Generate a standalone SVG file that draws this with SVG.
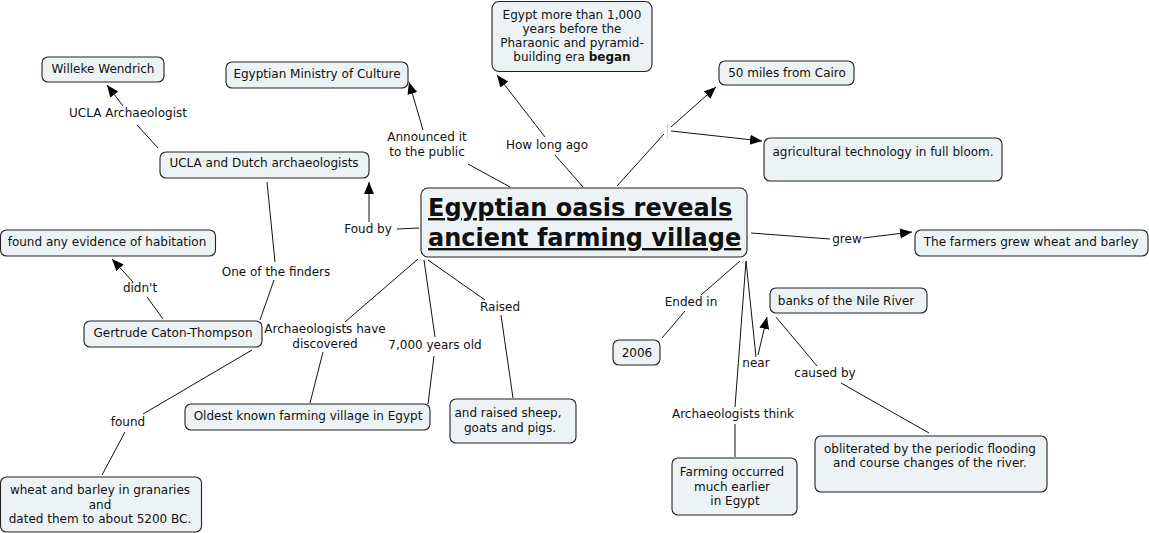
<svg xmlns="http://www.w3.org/2000/svg" width="1149" height="533" viewBox="0 0 1149 533">
<style>
.n rect{fill:#edf3f5;stroke:#222;stroke-width:1.1}
text{font-family:"DejaVu Sans",Verdana,sans-serif;font-size:12px;fill:#111;text-anchor:middle}
.t{font-weight:bold;font-size:24px;text-anchor:start;text-decoration:underline}
.c line{stroke:#111;stroke-width:1}
.c .a{marker-end:url(#ah)}
</style>
<defs>
<marker id="ah" markerUnits="userSpaceOnUse" markerWidth="13" markerHeight="11" refX="12" refY="5" orient="auto">
<path d="M0,0 L12,5 L0,10 z" fill="#000"/>
</marker>
</defs>
<rect width="1149" height="533" fill="#fff"/>
<g class="c" id="connectors">
<line x1="510" y1="187" x2="468" y2="164"/>
<line class="a" x1="423" y1="130" x2="409" y2="82"/>
<line x1="583" y1="187" x2="555" y2="155"/>
<line class="a" x1="545" y1="137" x2="497" y2="75"/>
<line x1="617" y1="186" x2="664" y2="134"/>
<line x1="667.5" y1="124" x2="667.5" y2="138" style="stroke:#d8d8d8"/>
<line class="a" x1="671" y1="127" x2="716" y2="87"/>
<line class="a" x1="671" y1="131" x2="762" y2="141"/>
<line x1="751" y1="233" x2="830" y2="239"/>
<line class="a" x1="863" y1="238" x2="912" y2="232"/>
<line x1="419" y1="228" x2="397" y2="229"/>
<line class="a" x1="369" y1="222" x2="369" y2="182"/>
<line x1="158" y1="148" x2="137" y2="125"/>
<line class="a" x1="123" y1="106" x2="107" y2="85"/>
<line x1="267" y1="182" x2="275" y2="262"/>
<line x1="274" y1="280" x2="260" y2="320"/>
<line x1="163" y1="319" x2="147" y2="297"/>
<line class="a" x1="133" y1="282" x2="112" y2="259"/>
<line x1="252" y1="350" x2="143" y2="414"/>
<line x1="125" y1="432" x2="102" y2="475"/>
<line x1="418" y1="259" x2="345" y2="322"/>
<line x1="323" y1="352" x2="310" y2="403"/>
<line x1="424" y1="260" x2="435" y2="337"/>
<line x1="434" y1="356" x2="428" y2="404"/>
<line x1="428" y1="260" x2="485" y2="300"/>
<line x1="501" y1="315" x2="513" y2="398"/>
<line x1="740" y1="261" x2="701" y2="295"/>
<line x1="685" y1="311" x2="662" y2="338"/>
<line x1="746" y1="261" x2="735" y2="407"/>
<line x1="735" y1="424" x2="735" y2="457"/>
<line x1="746" y1="261" x2="756" y2="357"/>
<line class="a" x1="758" y1="355" x2="767" y2="317"/>
<line x1="776" y1="317" x2="817" y2="366"/>
<line x1="841" y1="383" x2="929" y2="433"/>
</g>
<g id="labels">
<text x="128" y="117">UCLA Archaeologist</text>
<text x="427" y="141">Announced it</text>
<text x="427" y="156">to the public</text>
<text x="547" y="149">How long ago</text>
<text x="368" y="233">Foud by</text>
<text x="847" y="243">grew</text>
<text x="276" y="276">One of the finders</text>
<text x="140" y="292">didn't</text>
<text x="128" y="426">found</text>
<text x="325" y="333">Archaeologists have</text>
<text x="325" y="348">discovered</text>
<text x="435" y="349">7,000 years old</text>
<text x="500" y="311">Raised</text>
<text x="691" y="306">Ended in</text>
<text x="756" y="367">near</text>
<text x="825" y="377">caused by</text>
<text x="733" y="418">Archaeologists think</text>
</g>
<g class="n" id="central"><rect x="421" y="188" width="326" height="69" rx="7"/>
<text class="t" x="428" y="216">Egyptian oasis reveals </text>
<text class="t" x="428" y="246">ancient farming village</text></g>
<g class="n" id="egypt"><rect x="492" y="1.5" width="160" height="70" rx="7"/>
<text x="572" y="19">Egypt more than 1,000</text>
<text x="572" y="33">years before the</text>
<text x="572" y="47">Pharaonic and pyramid-</text>
<text x="572" y="61">building era <tspan font-weight="bold">began</tspan></text></g>
<g class="n" id="willeke"><rect x="42" y="57" width="122" height="25" rx="6"/><text x="103" y="73">Willeke Wendrich</text></g>
<g class="n" id="ministry"><rect x="226" y="62" width="182" height="26" rx="6"/><text x="317" y="78">Egyptian Ministry of Culture</text></g>
<g class="n" id="cairo"><rect x="719" y="61" width="135" height="24" rx="6"/><text x="787" y="77">50 miles from Cairo</text></g>
<g class="n" id="agri"><rect x="764" y="138" width="238" height="43" rx="6"/><text x="883" y="156">agricultural technology in full bloom.</text></g>
<g class="n" id="ucla"><rect x="160" y="152" width="209" height="26" rx="6"/><text x="264" y="167">UCLA and Dutch archaeologists</text></g>
<g class="n" id="evidence"><rect x="0.5" y="230" width="215" height="26" rx="6"/><text x="107" y="246">found any evidence of habitation</text></g>
<g class="n" id="farmers"><rect x="915" y="230" width="233" height="26" rx="6"/><text x="1031" y="246">The farmers grew wheat and barley</text></g>
<g class="n" id="gertrude"><rect x="84" y="321" width="178" height="26" rx="6"/><text x="173" y="337">Gertrude Caton-Thompson</text></g>
<g class="n" id="banks"><rect x="770" y="288" width="157" height="25" rx="6"/><text x="846" y="305">banks of the Nile River</text></g>
<g class="n" id="y2006"><rect x="613" y="340" width="47" height="25" rx="6"/><text x="637" y="357">2006</text></g>
<g class="n" id="oldest"><rect x="185" y="404" width="245" height="26" rx="6"/><text x="308" y="420">Oldest known farming village in Egypt</text></g>
<g class="n" id="raised"><rect x="450" y="399" width="126" height="44" rx="6"/><text x="508" y="417">and raised sheep,</text><text x="510" y="432">goats and pigs.</text></g>
<g class="n" id="obliterated"><rect x="815" y="436" width="232" height="56" rx="6"/><text x="930" y="453">obliterated by the periodic flooding</text><text x="930" y="467">and course changes of the river.</text></g>
<g class="n" id="farming"><rect x="672" y="458" width="125" height="57" rx="6"/><text x="732" y="476">Farming occurred</text><text x="732" y="491">much earlier</text><text x="735" y="505">in Egypt</text></g>
<g class="n" id="wheat"><rect x="0.5" y="477" width="201" height="55" rx="6"/><text x="100" y="494">wheat and barley in granaries</text><text x="100" y="509">and</text><text x="100" y="523">dated them to about 5200 BC.</text></g>
</svg>
